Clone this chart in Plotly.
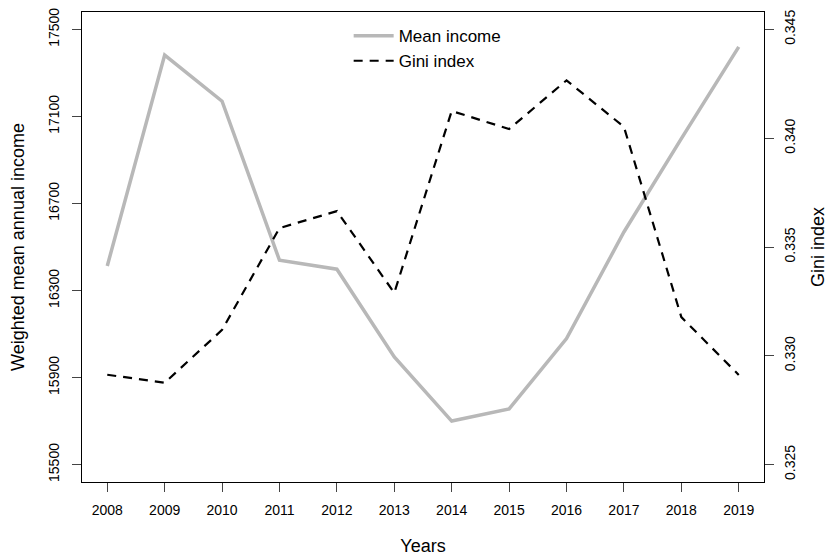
import plotly.graph_objects as go

# Data ################################
years = [2008, 2009, 2010, 2011, 2012, 2013, 2014, 2015, 2016, 2017, 2018, 2019]
mean_income = [16413, 17382, 17170, 16439, 16398, 15995, 15700, 15756, 16079, 16569, 16998, 17420]
gini_index = [0.32913, 0.32876, 0.33119, 0.33587, 0.33665, 0.33289,
              0.34125, 0.34042, 0.34266, 0.34052, 0.33178, 0.32912]

income_ticks = [15500, 15900, 16300, 16700, 17100, 17500]
gini_ticks = [0.325, 0.330, 0.335, 0.340, 0.345]

# Plotting ############################
fig = go.Figure()

fig.add_trace(go.Scatter(
    x=years, y=mean_income, name="Mean income", mode="lines",
    line=dict(color="#B8B8B8", width=3.5),
    yaxis="y",
))
fig.add_trace(go.Scatter(
    x=years, y=gini_index, name="Gini index", mode="lines",
    line=dict(color="black", width=2.2, dash="9px,7px"),
    yaxis="y2",
))

axis_style = dict(
    showline=True, linecolor="black", linewidth=1.3,
    ticks="outside", ticklen=9, tickcolor="#444", tickwidth=1,
    showgrid=False, zeroline=False, automargin=False,
    ticklabeloverflow="allow", tickfont=dict(size=14),
)

# page body adds an 8px offset, so the figure is sized to fit the window
fig.update_layout(
    width=827, height=548,
    margin=dict(l=74, r=71, t=4, b=74),
    paper_bgcolor="white", plot_bgcolor="white",
    font=dict(family="Liberation Sans, Arial", size=15, color="black"),
    xaxis=dict(
        range=[2007.56, 2019.44], tickvals=years, mirror=True,
        ticklabelstandoff=6,
        title=dict(text="Years", standoff=22), **axis_style,
    ),
    yaxis=dict(
        range=[15420, 17580], tickvals=income_ticks, tickformat="d",
        tickangle=-90, mirror=True, ticklabelstandoff=7,
        title=dict(text="Weighted mean annual income", standoff=17), **axis_style,
    ),
    yaxis2=dict(
        range=[0.3242, 0.3458], tickvals=gini_ticks, tickformat=".3f",
        tickangle=-90, overlaying="y", side="right", ticklabelstandoff=4,
        title=dict(text="Gini index", standoff=14), **axis_style,
    ),
    legend=dict(
        x=0.391, y=0.987, xanchor="left", yanchor="top",
        bgcolor="rgba(0,0,0,0)", font=dict(size=17),
        itemwidth=40, tracegroupgap=0,
    ),
)

fig.write_html("out.html")
